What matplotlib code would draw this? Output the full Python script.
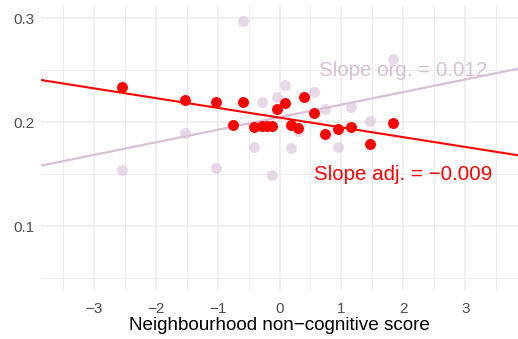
import numpy as np
import matplotlib.pyplot as plt

# neighbourhood scores (x) and outcome before / after adjustment
x = [-2.55, -1.52, -1.02, -0.75, -0.59, -0.41, -0.29, -0.20, -0.12, -0.04,
     0.09, 0.18, 0.30, 0.40, 0.55, 0.74, 0.95, 1.16, 1.46, 1.83]
y_adj = [0.234, 0.2215, 0.2195, 0.197, 0.2195, 0.1955, 0.196, 0.196, 0.196, 0.2128,
         0.218, 0.1975, 0.194, 0.2237, 0.209, 0.188, 0.1936, 0.1955, 0.179, 0.199]
y_org = [0.154, 0.189, 0.1555, 0.197, 0.297, 0.1757, 0.219, 0.196, 0.1487, 0.2237,
         0.236, 0.175, 0.191, 0.2237, 0.229, 0.2125, 0.1757, 0.214, 0.2007, 0.2606]

# fitted lines (intercept, slope)
fit_org = (0.2046, 0.0121)
fit_adj = (0.2042, -0.0094)
label_org = "Slope org. = 0.012"
label_adj = "Slope adj. = \u22120.009"

x_ticks = [-3, -2, -1, 0, 1, 2, 3]
y_ticks = [0.1, 0.2, 0.3]

plt.rcParams['font.family'] = ['Liberation Sans', 'DejaVu Sans']
thistle = '#D8BFD8'
red = '#FF0000'

fig = plt.figure(figsize=(5.18, 3.39), dpi=100)
ax = fig.add_axes([41/518, 1-291/339, 477/518, 286/339])

ax.set_xlim(-3.85, 3.85)
ax.set_ylim(0.0375, 0.3125)
ax.set_xticks(x_ticks)
ax.set_xticklabels([str(t).replace('-', '\u2212') for t in x_ticks])
ax.set_yticks(y_ticks)
ax.set_yticklabels([str(t) for t in y_ticks])
ax.set_xticks(np.arange(-3.5, 3.6, 1.0), minor=True)
ax.set_yticks([0.05, 0.15, 0.25], minor=True)
ax.grid(True, which='major', color='#EBEBEB', lw=1.1)
ax.grid(True, which='minor', color='#EBEBEB', lw=0.7)
ax.set_axisbelow(True)
for s in ax.spines.values():
    s.set_visible(False)
ax.tick_params(which='both', length=0, labelsize=11, labelcolor='#4D4D4D')
ax.tick_params(axis='x', pad=8)
ax.tick_params(axis='y', pad=5)
ax.set_xlabel('Neighbourhood non\u2212cognitive score', fontsize=13.6, color='black', labelpad=1)

ax.scatter(x, y_org, s=62, color=thistle, alpha=0.6, lw=0, zorder=2)
ax.axline((0, fit_org[0]), slope=fit_org[1], color=thistle, lw=1.6, zorder=3)
ax.axline((0, fit_adj[0]), slope=fit_adj[1], color=red, lw=1.5, zorder=4)
ax.scatter(x, y_adj, s=62, color=red, lw=0, zorder=5)

ax.text(2.0, 0.25, label_org, color=thistle, fontsize=14.8, ha='center', va='center', zorder=6)
ax.text(2.0, 0.15, label_adj, color=red, fontsize=14.8, ha='center', va='center', zorder=6)

fig.savefig('out.png', dpi=100)
